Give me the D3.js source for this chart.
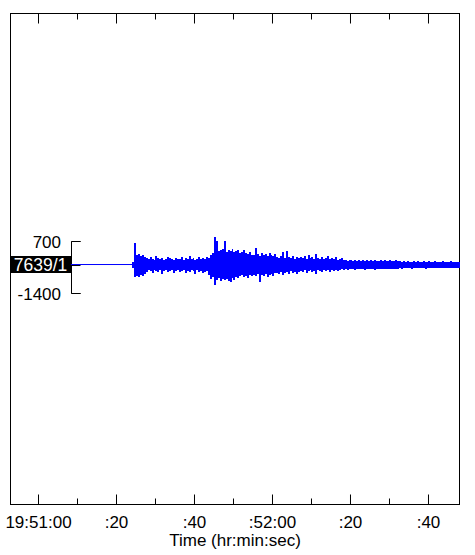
<!DOCTYPE html>
<html><head><meta charset="utf-8">
<script src="https://cdn.jsdelivr.net/npm/d3@7"></script>
<style>body{margin:0;background:#fff}svg{display:block}text{font-family:"Liberation Sans",Arial,Helvetica,sans-serif}</style>
</head><body><svg id="c" width="475" height="555"></svg>
<script>
// Time axis (seconds after 19:51:00)
const timeDomainSeconds = [-7.18, 107.95];
const majorTickSeconds = [0, 20, 40, 60, 80, 100];
const majorTickLabels = ["19:51:00", ":20", ":40", ":52:00", ":20", ":40"];
const minorTickSeconds = [10, 30, 50, 70, 90];
const axisTitle = "Time (hr:min:sec)";
// Amplitude scale (counts)
const ampDomain = [-1400, 700];
const ampTickValues = [700, -1400];
const ampTickLabels = ["700", "-1400"];
const stationLabel = "7639/1";
const traceMeanMark = -270;
// Trace
const traceStartSec = 8.3;
const traceBaseline = -230;
const eventStartSec = 24.0;
const binSeconds = 0.5;
const traceHigh = [
 -110, 650,
 170, 210, 130, 170, 90,
 50,10,90,10,-30,130,50,10,50,-30,10,90,50,10,-30,50,10,10,90,-30,50,10,130,10,50,-30,10,90,10,50,10,90,50,
 170, 250, 890,
 730,330,370,410,730,290,370,330,410,290,
 330,370,250,290,370,250,210,290,170,
 170,450,210,130,250,170,210,130,250,170,130,210,
 90,50,130,290,50,330,90,50,130,10,90,50,
 90,50,130,10,170,50,90,10,210,50,10,90,10,50,130,10,50,10,90,-30,10,50,-30,
 -30,-70,-30,-50,-70,-30,-70,-30,-70,-50,-70,-30,-70,-50,-70,-30,-70,-70,-50,-70,-30,-70,-70,-50,-70,-70,-30,-70,
 -90,-110,-70,-110,-90,-110,-110,-70,-110,-90,-110,-110,-70,-110,-110,-90,-110,-110,-90,-110,-110,-110,-90,-110,-110,-110,-90,-110,-110,-110,-110
];
const traceLow = [
 -390, -750,
 -710,-750,-670,-710,-630,
 -550,-470,-510,-590,-470,-510,-550,-470,-630,-510,-470,-550,-510,-470,-590,-510,-470,-550,-510,-470,-590,-510,-550,-470,-510,-630,-470,-550,-510,-590,-550,-510,-670,
 -830,-750,-1070,
 -870,-790,-910,-830,-870,-830,-910,-950,-790,-870,
 -750,-790,-710,-670,-750,-710,-790,-670,-710,
 -670,-710,-630,-950,-670,-710,-630,-750,-670,-630,-710,-590,
 -590,-630,-550,-670,-590,-550,-630,-510,-590,-550,-630,-550,
 -510,-550,-470,-590,-510,-470,-550,-510,-630,-470,-510,-550,-470,-510,-470,-550,-470,-510,-470,-510,-470,-430,-470,
 -430,-450,-430,-410,-430,-450,-430,-410,-430,-430,-450,-430,-410,-430,-430,-450,-430,-410,-430,-430,-430,-410,-430,-430,-410,-430,-430,-410,
 -390,-410,-390,-390,-370,-390,-410,-390,-390,-390,-370,-390,-390,-410,-390,-390,-370,-390,-390,-390,-370,-390,-390,-390,-370,-390,-390,-370,-390,-390,-390
];

const svg = d3.select("#c");
const L = 10.5, R = 459.5, T = 13.5, B = 504.5;
const x = d3.scaleLinear().domain(timeDomainSeconds).range([L, R]);
const y = d3.scaleLinear().domain(ampDomain).range([293.5, 241.5]);

svg.append("rect").attr("x", L).attr("y", T).attr("width", R - L).attr("height", B - T)
  .attr("fill", "none").attr("stroke", "#000").attr("stroke-width", 1);

function styleAxis(g){ g.select(".domain").remove(); g.selectAll("line").attr("stroke","#000"); }

svg.append("g").attr("transform", `translate(0,${T})`)
  .call(d3.axisTop(x).tickValues(majorTickSeconds).tickSize(-10).tickFormat("").offset(0)).call(styleAxis);
svg.append("g").attr("transform", `translate(0,${T})`)
  .call(d3.axisTop(x).tickValues(minorTickSeconds).tickSize(-6).tickFormat("").offset(0)).call(styleAxis);
const bx = svg.append("g").attr("transform", `translate(0,${B})`)
  .call(d3.axisBottom(x).tickValues(majorTickSeconds).tickSize(-10).tickPadding(11)
    .tickFormat((d, i) => majorTickLabels[i]).offset(0)).call(styleAxis);
bx.selectAll("text").attr("font-size", 17).attr("fill", "#000")
  .attr("font-family", '"Liberation Sans",Arial,sans-serif');
svg.append("g").attr("transform", `translate(0,${B})`)
  .call(d3.axisBottom(x).tickValues(minorTickSeconds).tickSize(-6).tickFormat("").offset(0)).call(styleAxis);

svg.append("text").attr("x", (L + R) / 2).attr("y", 546).attr("text-anchor", "middle")
  .attr("font-size", 17).text(axisTitle);

// amplitude bracket
const ay = svg.append("g").attr("transform", "translate(71.5,0)")
  .call(d3.axisRight(y).tickValues(ampTickValues.concat([traceMeanMark])).tickSize(9).tickSizeOuter(9).tickFormat("").offset(0));
ay.selectAll("line,path").attr("stroke", "#000");

ampTickValues.forEach((v, i) => {
  svg.append("text").attr("x", 61).attr("y", y(v) + 6).attr("text-anchor", "end")
    .attr("font-size", 17).text(ampTickLabels[i]);
});
svg.append("rect").attr("x", 10).attr("y", 256).attr("width", 61).attr("height", 17).attr("fill", "#000");
svg.append("text").attr("x", 40.5).attr("y", 270.5).attr("text-anchor", "middle")
  .attr("font-size", 17.5).attr("fill", "#fff").text(stationLabel);

// trace: flat pre-event segment
svg.append("path").datum([[traceStartSec, traceBaseline], [eventStartSec, traceBaseline]])
  .attr("d", d3.line().x(d => x(d[0])).y(d => y(d[1])))
  .attr("fill", "none").attr("stroke", "#0000ff").attr("stroke-width", 1);
// trace: per-bin min/max envelope (solid) plus thin spikes
const bins = traceHigh.map((h, i) => ({ t: eventStartSec + i * binSeconds, hi: h, lo: traceLow[i] }));
svg.append("g").selectAll("rect").data(bins).join("rect")
  .attr("x", d => x(d.t))
  .attr("width", d => x(d.t + binSeconds) - x(d.t))
  .attr("y", d => y(d.hi))
  .attr("height", d => y(d.lo) - y(d.hi))
  .attr("fill", "#0000ff").attr("shape-rendering", "crispEdges");
</script></body></html>
